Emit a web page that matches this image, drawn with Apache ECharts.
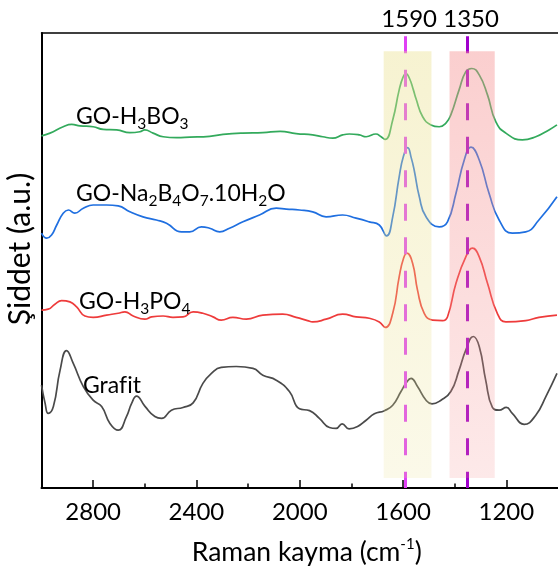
<!DOCTYPE html>
<html><head><meta charset="utf-8">
<script src="https://cdn.jsdelivr.net/npm/echarts@6/dist/echarts.min.js"></script>
<style>html,body{margin:0;padding:0;background:#fff}#c{width:558px;height:577px}</style>
</head><body><div id="c"></div>
<script>
// ---- data ----
const xTicks = [1200, 1600, 2000, 2400, 2800];
const xMinorTicks = [1400, 1800, 2200, 2600];
const peakPositions = [1590, 1350];
const bandRanges = [[1675, 1490], [1420, 1245]];
const bandTop = 96, bandBottom = 2.2, dashTop = 99.3;
const seriesNames = ['GO-H3BO3', 'GO-Na2B4O7.10H2O', 'GO-H3PO4', 'Grafit'];

const h3bo3 = [[3000,77.4],[2967,78.0],[2916,79.4],[2883,79.9],[2851,79.6],[2800,79.4],[2761,78.8],[2709,78.7],[2658,78.1],[2619,78.3],[2600,78.7],[2568,78.0],[2529,77.2],[2477,77.0],[2426,77.1],[2349,77.3],[2297,77.7],[2220,78.0],[2143,78.1],[2076,78.4],[2014,77.9],[1950,77.6],[1911,77.2],[1872,76.9],[1834,77.6],[1808,77.8],[1769,77.6],[1743,77.2],[1705,77.8],[1685,77.2],[1669,76.6],[1640,80.9],[1615,87.5],[1600,90.3],[1589,91.1],[1575,90.0],[1560,87.5],[1550,85.6],[1524,81.6],[1492,79.8],[1460,79.4],[1434,80.2],[1415,82.0],[1383,87.5],[1357,91.5],[1334,92.2],[1305,90.8],[1273,86.4],[1241,80.5],[1202,78.0],[1138,76.5],[1086,77.2],[1035,78.7],[1004,79.8]];

const borax = [[3000,56.0],[2980,54.9],[2961,55.6],[2941,57.8],[2916,60.4],[2896,61.1],[2871,60.4],[2838,61.5],[2800,62.2],[2748,62.2],[2703,62.0],[2658,60.7],[2607,59.6],[2555,58.9],[2516,58.2],[2458,56.3],[2426,56.3],[2381,57.4],[2349,57.1],[2310,56.3],[2272,57.1],[2220,58.5],[2156,60.0],[2091,61.5],[2052,61.3],[2001,61.1],[1950,60.7],[1898,59.6],[1834,60.0],[1782,59.3],[1731,58.5],[1692,57.8],[1664,55.4],[1640,59.6],[1615,68.4],[1598,73.0],[1582,74.8],[1568,72.5],[1557,69.9],[1537,64.0],[1511,59.6],[1460,57.4],[1428,58.5],[1395,64.8],[1363,72.1],[1337,74.9],[1305,72.1],[1267,64.8],[1228,58.9],[1177,56.0],[1125,56.3],[1074,58.9],[1004,64.0]];

const h3po4 = [[3000,39.1],[2974,39.3],[2948,40.4],[2922,41.2],[2890,40.9],[2864,39.8],[2832,37.8],[2800,37.5],[2748,38.0],[2703,38.4],[2677,38.7],[2645,37.8],[2600,37.1],[2574,37.6],[2529,37.8],[2491,37.5],[2452,37.6],[2413,38.7],[2375,38.4],[2336,37.6],[2304,36.9],[2259,37.5],[2207,37.1],[2143,38.0],[2066,38.2],[2014,37.5],[1970,36.8],[1950,36.5],[1898,37.1],[1834,38.2],[1782,37.6],[1731,37.3],[1692,36.5],[1669,35.3],[1640,38.4],[1615,46.4],[1598,50.5],[1585,51.6],[1563,49.4],[1544,43.5],[1518,38.4],[1486,36.9],[1447,36.8],[1428,37.6],[1395,45.0],[1357,50.8],[1331,52.7],[1305,50.8],[1273,45.0],[1235,38.4],[1202,36.5],[1125,36.8],[1074,37.5],[1004,38.0]];

const grafit = [[3000,22.6],[2986,18.6],[2974,16.4],[2954,17.9],[2928,25.9],[2903,30.2],[2877,27.4],[2838,22.3],[2800,19.3],[2767,17.9],[2735,14.2],[2703,12.7],[2671,15.7],[2651,18.6],[2632,20.2],[2600,18.0],[2561,15.7],[2535,15.3],[2497,17.1],[2452,17.7],[2413,18.7],[2375,23.0],[2342,25.2],[2304,26.5],[2246,26.7],[2181,26.3],[2143,24.8],[2091,23.7],[2040,21.2],[2001,17.4],[1962,17.0],[1924,15.3],[1885,13.3],[1859,13.1],[1836,14.1],[1809,13.0],[1776,13.5],[1743,14.9],[1711,16.3],[1672,17.0],[1640,18.2],[1608,21.2],[1589,23.0],[1569,24.1],[1544,22.3],[1511,19.3],[1488,18.5],[1453,19.3],[1415,21.2],[1383,25.9],[1357,30.3],[1328,33.3],[1305,31.1],[1280,23.7],[1254,17.7],[1228,17.1],[1200,17.7],[1177,16.4],[1131,14.0],[1086,16.0],[1047,20.1],[1004,25.2]];

const seriesData = [h3bo3, borax, h3po4, grafit];
const seriesColors = ['#33aa5c', '#1f6fe0', '#ee3b3b', '#4a4a4a'];
const labelRich = ['GO-H{s|3}BO{s|3}', 'GO-Na{s|2}B{s|4}O{s|7}.10H{s|2}O', 'GO-H{s|3}PO{s|4}', 'Graf\u200Cit'];
const labelPos = [[76, 117], [76, 194], [79, 302], [83, 386]];

const FONT = 'Lato';
const chart = echarts.init(document.getElementById('c'), null, {renderer: 'canvas'});

function grad(r, g, b, a1, a2) {
  return {type: 'linear', x: 0, y: 0, x2: 0, y2: 1,
    colorStops: [{offset: 0, color: `rgba(${r},${g},${b},${a1})`}, {offset: 1, color: `rgba(${r},${g},${b},${a2})`}]};
}
const bandColors = [grad(235, 225, 145, 0.42, 0.2), grad(245, 145, 145, 0.44, 0.2)];
const dashColors = ['#e040f5', '#a000cc'];

const series = seriesData.map((d, i) => ({
  name: seriesNames[i], type: 'line', data: d, showSymbol: false, smooth: 0.5,
  lineStyle: {color: seriesColors[i], width: 1.7}, z: 2, silent: true
}));
series.push({
  type: 'line', data: [], silent: true,
  markLine: {symbol: 'none', silent: true, z: 5, label: {show: false},
    lineStyle: {type: [17, 16.5], width: 3},
    data: peakPositions.map((p, i) => [{coord: [p, dashTop], lineStyle: {color: dashColors[i], type: [17, 16.5], width: 3}}, {coord: [p, 0]}])}
});
series.push({
  type: 'line', data: [], silent: true,
  markArea: {silent: true, z: 10, label: {show: false},
    data: bandRanges.map((r, i) => [{coord: [r[0], bandTop], itemStyle: {color: bandColors[i]}}, {coord: [r[1], bandBottom]}])}
});

const subStyle = {fontSize: 15.5, lineHeight: 14, verticalAlign: 'bottom', fontFamily: FONT, fill: '#000', color: '#000'};

const option = {
  animation: false,
  backgroundColor: '#fff',
  grid: {left: 41.5, top: 33, width: 517.5, height: 455, show: false},
  xAxis: [
    {type: 'value', min: 1000, max: 3000, inverse: true, position: 'bottom',
      axisLine: {show: true, onZero: false, lineStyle: {color: '#000', width: 2}},
      axisTick: {show: true, inside: true, length: 8, customValues: xTicks, lineStyle: {color: '#000', width: 1.5}},
      axisLabel: {customValues: xTicks, fontSize: 24, color: '#000', margin: 12, fontFamily: FONT, formatter: v => String(v)},
      splitLine: {show: false},
      name: 'Raman kayma (cm{sup|-1})', nameLocation: 'middle', nameGap: 49,
      nameTextStyle: {fontSize: 26.5, fontFamily: FONT, color: '#000', lineHeight: 30, padding: [0, 0, 0, 14],
        rich: {sup: {fontSize: 15, lineHeight: 14, verticalAlign: 'top', fontFamily: FONT, color: '#000'}}}
    },
    {type: 'value', min: 1000, max: 3000, inverse: true, position: 'bottom',
      axisLine: {show: false},
      axisTick: {show: true, inside: true, length: 4.5, customValues: xMinorTicks, lineStyle: {color: '#000', width: 1.5}},
      axisLabel: {show: false}, splitLine: {show: false}
    },
    {type: 'value', min: 1000, max: 3000, inverse: true, position: 'top',
      axisLine: {show: true, lineStyle: {color: '#000', width: 1.5}},
      axisTick: {show: false},
      axisLabel: {customValues: peakPositions, fontSize: 24, color: '#000', margin: 2, fontFamily: FONT, padding: [0, 0, 0, 7], formatter: v => String(v)},
      splitLine: {show: false}
    }
  ],
  yAxis: {type: 'value', min: 0, max: 100,
    axisLine: {show: true, lineStyle: {color: '#000', width: 2}},
    axisTick: {show: false}, axisLabel: {show: false}, splitLine: {show: false}},
  series: series,
  graphic: labelRich.map((t, i) => ({
    type: 'text', x: labelPos[i][0], y: labelPos[i][1], silent: true, z: 20,
    style: {text: t, fontSize: 23, fontFamily: FONT, fill: '#000', lineHeight: 30, align: 'left', verticalAlign: 'middle', rich: {s: subStyle}}
  })).concat([{
    type: 'text', x: 20, y: 249, rotation: Math.PI / 2, silent: true, z: 20,
    style: {text: 'Şiddet (a.u.)', fontSize: 30, fontFamily: FONT, fill: '#000', align: 'center', verticalAlign: 'middle'}
  }])
};
chart.setOption(option);
</script></body></html>
